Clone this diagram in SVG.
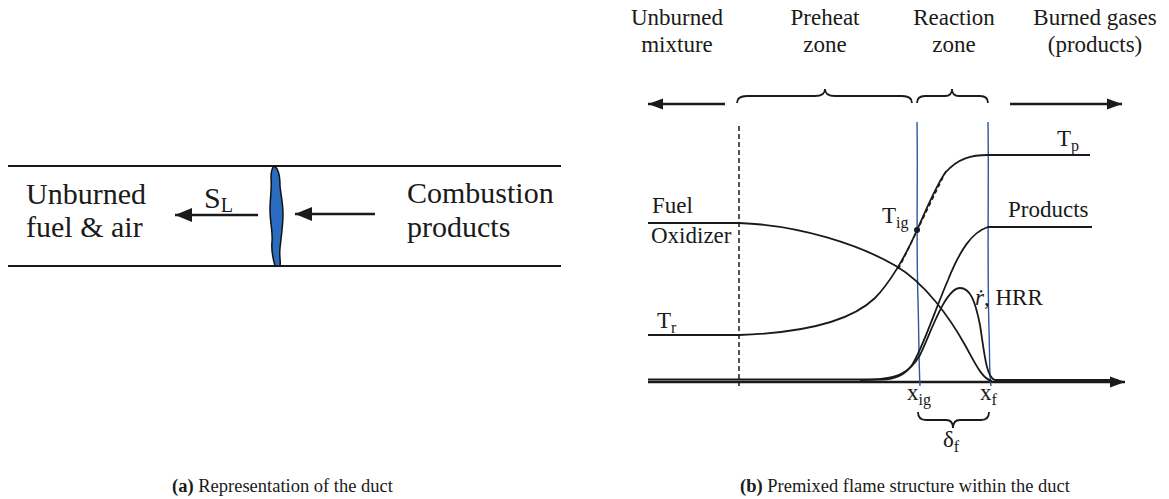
<svg xmlns="http://www.w3.org/2000/svg" width="1169" height="499" viewBox="0 0 1169 499">
<style>
text{font-family:"Liberation Serif","Times New Roman",serif;fill:#1a1a1a}
.a{font-size:30px}
.b{font-size:23px}
.sub{font-size:16px}
.ln{fill:none;stroke:#1a1a1a;stroke-width:1.8}
.duct{fill:none;stroke:#1a1a1a;stroke-width:2}
.arr{fill:none;stroke:#1a1a1a;stroke-width:2.5}
.blue{fill:none;stroke:#2f56a0;stroke-width:1.4}
.cap{font-size:18.5px}
</style>
<defs>
<marker id="ha" markerWidth="18" markerHeight="14" refX="17" refY="7" orient="auto" markerUnits="userSpaceOnUse">
<path d="M0,0 L17,7 L0,14 Z" fill="#1a1a1a"/>
</marker>
<marker id="hb" markerWidth="16" markerHeight="12" refX="15" refY="6" orient="auto" markerUnits="userSpaceOnUse">
<path d="M0,0.5 L15,6 L0,11.5 Z" fill="#1a1a1a"/>
</marker>
</defs>

<!-- Panel (a) -->
<g id="duct">
<line class="duct" x1="8" y1="166" x2="561" y2="166"/>
<line class="duct" x1="8" y1="266" x2="561" y2="266"/>
</g>
<g id="flame">
<path d="M274,166 C278,168 280,176 280,186 C281,196 283,204 283,214 C283,226 281,238 280,248 C279,256 281,262 280,266 L275,266 C273,258 271,252 272,242 C273,232 270,222 270,210 C270,198 272,188 271,178 C271,172 272,168 274,166 Z" fill="#2a6cc0" stroke="#111" stroke-width="1.5"/>
</g>
<g id="unburned-a">
<text class="a" x="26" y="204">Unburned</text>
<text class="a" x="26" y="237">fuel &amp; air</text>
</g>
<g id="combustion-a">
<text class="a" x="407" y="203">Combustion</text>
<text class="a" x="407" y="237">products</text>
</g>
<g id="sl">
<text class="a" x="204" y="208">S<tspan font-size="20" dy="4">L</tspan></text>
</g>
<g id="connectors-a">
<line class="arr" x1="258" y1="215" x2="175" y2="215" marker-end="url(#ha)"/>
<line class="arr" x1="375" y1="214" x2="295" y2="214" marker-end="url(#ha)"/>
</g>

<!-- Panel (b) header -->
<g id="header">
<text class="b" x="677" y="25" text-anchor="middle">Unburned</text>
<text class="b" x="677" y="52" text-anchor="middle">mixture</text>
<text class="b" x="825" y="25" text-anchor="middle">Preheat</text>
<text class="b" x="825" y="52" text-anchor="middle">zone</text>
<text class="b" x="954" y="25" text-anchor="middle">Reaction</text>
<text class="b" x="954" y="52" text-anchor="middle">zone</text>
<text class="b" x="1095" y="25" text-anchor="middle">Burned gases</text>
<text class="b" x="1095" y="52" text-anchor="middle">(products)</text>
</g>
<g id="braces">
<path class="ln" d="M737,103 Q737,96 747,96 H815 Q825,96 825,89 Q825,96 835,96 H902 Q912,96 912,103"/>
<path class="ln" d="M917,103 Q917,96 925,96 H945 Q952,96 952,89 Q952,96 959,96 H980 Q988,96 988,103"/>
<path class="ln" d="M918,412 Q918,420 926,420 H946 Q953,420 953,428 Q953,420 960,420 H981 Q989,420 989,412"/>
</g>

<!-- Panel (b) plot -->
<g id="connectors-b">
<line class="arr" x1="725" y1="104" x2="648" y2="104" marker-end="url(#hb)"/>
<line class="arr" x1="1010" y1="104" x2="1122" y2="104" marker-end="url(#hb)"/>
<line class="arr" x1="648" y1="382" x2="1125" y2="382" marker-end="url(#hb)"/>
<line x1="739" y1="126" x2="739" y2="386" stroke="#1a1a1a" stroke-width="1.5" stroke-dasharray="5,3"/>
<path class="blue" d="M917,122 C918,180 916,240 918,300 C919,340 919,370 920,386"/>
<path class="blue" d="M988,122 C989,180 987,260 989,330 C990,360 989,375 991,386"/>
</g>
<g id="curves">
<path id="temperature" class="ln" d="M648,335 H739 C800,333 850,322 875,298 C888,285 905,258 917,230 C927,208 935,188 945,173 C958,158 972,155 988,155 H1090"/>
<line x1="946" y1="171" x2="898" y2="270" stroke="#1a1a1a" stroke-width="1.5" stroke-dasharray="4,3"/>
<circle cx="917" cy="230" r="3" fill="#1a1a1a"/>
<path id="fuel" class="ln" d="M648,223 H739 C800,225 860,245 896,266 C925,283 950,318 965,345 C975,363 982,379 992,381"/>
<path id="products" class="ln" d="M648,379.5 H880 C895,380 905,375 912,365 C922,350 935,310 948,280 C960,250 972,232 988,227 H1092"/>
<path id="hrr" class="ln" d="M860,380 C900,380 910,372 920,355 C930,335 945,288 960,288 C970,288 975,300 980,325 C984,350 986,378 995,380 H1118"/>
</g>
<g id="labels-b">
<text class="b" x="652" y="213">Fuel</text>
<text class="b" x="651" y="243">Oxidizer</text>
<text class="b" x="657" y="328">T<tspan class="sub" dy="5">r</tspan></text>
<text class="b" x="882" y="223">T<tspan class="sub" dy="5">ig</tspan></text>
<text class="b" x="1057" y="146">T<tspan class="sub" dy="5">p</tspan></text>
<text class="b" x="1008" y="217">Products</text>
<text class="b" x="975" y="305"><tspan font-style="italic">ṙ</tspan>, HRR</text>
<text class="b" x="907" y="400">x<tspan class="sub" dy="5">ig</tspan></text>
<text class="b" x="980" y="400">x<tspan class="sub" dy="5">f</tspan></text>
<text class="b" x="943" y="447">δ<tspan class="sub" dy="5">f</tspan></text>
</g>

<g id="captions">
<text class="cap" x="172" y="492"><tspan font-weight="bold">(a)</tspan> Representation of the duct</text>
<text class="cap" x="740" y="492"><tspan font-weight="bold">(b)</tspan> Premixed flame structure within the duct</text>
</g>
</svg>
